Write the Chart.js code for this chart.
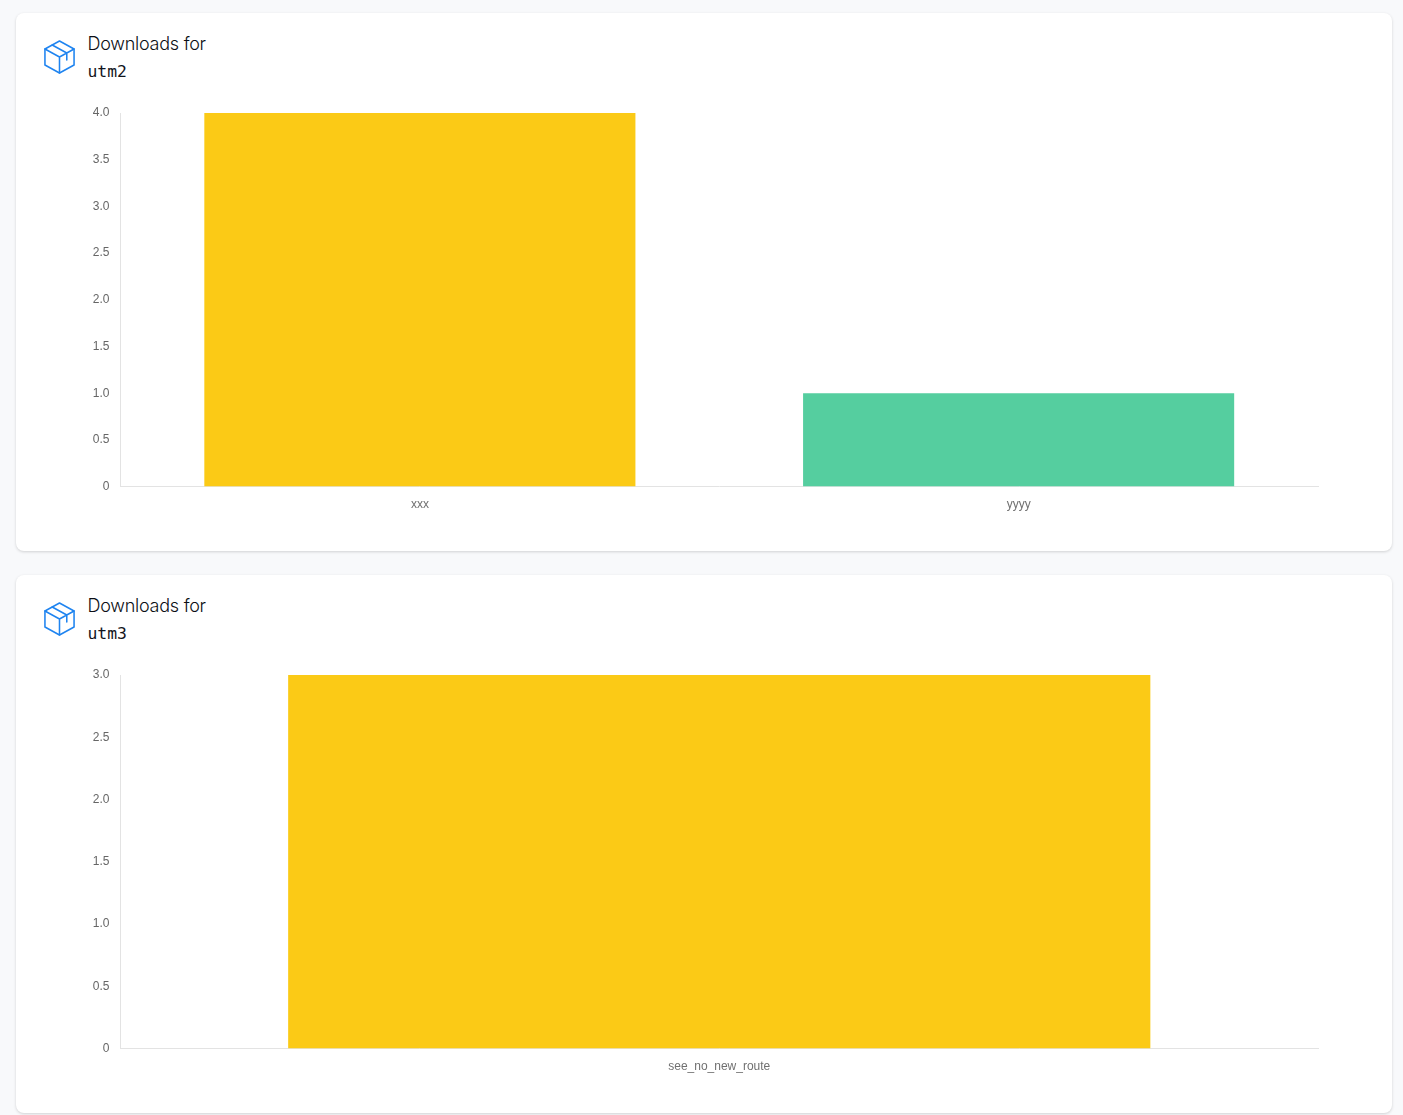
<!DOCTYPE html>
<html><head><meta charset="utf-8">
<script src="https://cdn.jsdelivr.net/npm/chart.js@4"></script>
<style>
html,body{margin:0;padding:0;background:#f8f9fb;width:1403px;height:1115px;overflow:hidden}
.card{position:absolute;left:16px;width:1376px;height:538px;background:#fff;border-radius:8px;box-shadow:0 1px 3px rgba(0,0,0,.16)}
.icon{position:absolute;left:27px;top:26px;width:33px;height:36px}
.t1{position:absolute;left:71.5px;top:19px;font:300 18px/24px Inter,"Noto Sans",sans-serif;color:#0c0f16;letter-spacing:-.25px;white-space:nowrap}
.t2{position:absolute;left:71.5px;top:47px;font:16.4px/24px "DejaVu Sans Mono",monospace;color:#12151c;white-space:nowrap}
.cv{position:absolute;left:16px;top:80px;width:1344px;height:440px}
</style></head><body>
<div class="card" style="top:13px">
<svg class="icon" viewBox="0 0 34 36" preserveAspectRatio="none" fill="none" stroke="#1f84f0" stroke-width="1.6" stroke-linejoin="round" stroke-linecap="round"><path d="M17 2 L32 10 V26 L17 34 L2 26 V10 Z"/><path d="M2 10 L17 18 L32 10 M17 18 V34 M9.5 6 L24.5 14 V21"/></svg>
<div class="t1">Downloads for</div><div class="t2">utm2</div>
<div class="cv"><canvas id="c1" width="1344" height="440"></canvas></div></div>
<div class="card" style="top:575px">
<svg class="icon" viewBox="0 0 34 36" preserveAspectRatio="none" fill="none" stroke="#1f84f0" stroke-width="1.6" stroke-linejoin="round" stroke-linecap="round"><path d="M17 2 L32 10 V26 L17 34 L2 26 V10 Z"/><path d="M2 10 L17 18 L32 10 M17 18 V34 M9.5 6 L24.5 14 V21"/></svg>
<div class="t1">Downloads for</div><div class="t2">utm3</div>
<div class="cv"><canvas id="c2" width="1344" height="440"></canvas></div></div>
<script>
const categories1=['xxx','yyyy'];
const values1=[4,1];
const colors1=['#fbca16','#55ce9f'];
const yMax1=4;
const yTicks1=['0','0.5','1.0','1.5','2.0','2.5','3.0','3.5','4.0'];
const categories2=['see_no_new_route'];
const values2=[3];
const colors2=['#fbca16'];
const yMax2=3;
const yTicks2=['0','0.5','1.0','1.5','2.0','2.5','3.0'];
function draw(id,cats,vals,cols,max,labels){
 new Chart(document.getElementById(id),{type:'bar',
  data:{labels:cats,datasets:[{data:vals,backgroundColor:cols,borderWidth:0,barPercentage:.9,categoryPercentage:.8}]},
  options:{responsive:false,animation:false,
   plugins:{legend:{display:false},tooltip:{enabled:false}},
   layout:{padding:{left:0,right:58,top:20,bottom:10}},
   scales:{
    x:{grid:{display:false,drawTicks:false},border:{color:'#e3e3e3',width:1},
       ticks:{color:'#707070',font:{family:'"Liberation Sans",Arial,sans-serif',size:12},padding:11,maxRotation:0}},
    y:{min:0,max:max,afterFit(s){s.width=88.5},grid:{display:false,drawTicks:false},border:{color:'#e3e3e3',width:1},
       ticks:{stepSize:.5,color:'#666',padding:11,font:{family:'"Liberation Sans",Arial,sans-serif',size:12},
         callback(v,i){return labels[i]}}}
   }}});
}
draw('c1',categories1,values1,colors1,yMax1,yTicks1);
draw('c2',categories2,values2,colors2,yMax2,yTicks2);
</script></body></html>
